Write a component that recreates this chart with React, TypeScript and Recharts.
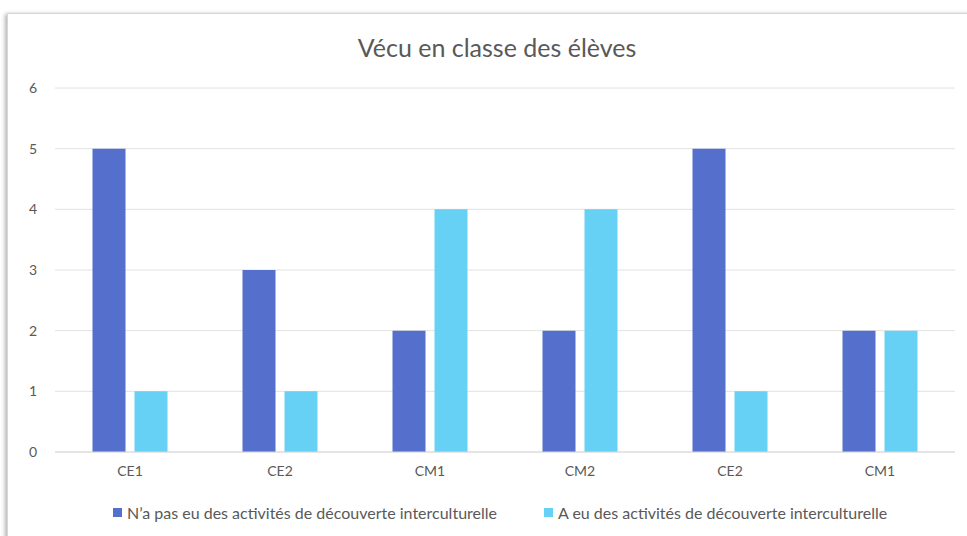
import React from 'react';
import { BarChart, Bar, XAxis, YAxis, CartesianGrid } from 'recharts';

const categories = ['CE1', 'CE2', 'CM1', 'CM2', 'CE2', 'CM1'];
const sansActivites = [5, 3, 2, 2, 5, 2];
const avecActivites = [1, 1, 4, 4, 1, 2];
const yTicks = [0, 1, 2, 3, 4, 5, 6];

const SERIES_A = "N’a pas eu des activités de découverte interculturelle";
const SERIES_B = 'A eu des activités de découverte interculturelle';
const COLOR_A = '#5470CC';
const COLOR_B = '#66D1F5';

const data = categories.map((c, i) => ({
  name: c,
  sans: sansActivites[i],
  avec: avecActivites[i],
}));

const FONT = 'Lato, "Open Sans", sans-serif';
const TEXT = '#595959';

const legendItems = [
  { label: SERIES_A, color: COLOR_A },
  { label: SERIES_B, color: COLOR_B },
];

export default function App() {
  return (
    <div style={{ position: 'absolute', left: 0, top: 0, width: 967, height: 536, background: '#fff', overflow: 'hidden', fontFamily: FONT }}>
      {/* card frame */}
      <div style={{ position: 'absolute', left: 7, top: 13, width: 980, height: 560, border: '1px solid #d6d6d6', boxShadow: '-2px 1px 4px rgba(0,0,0,0.3)', background: '#fff' }} />
      <div style={{ position: 'absolute', left: 0, top: 32, width: 994, textAlign: 'center', fontSize: 25, color: TEXT }}>
        Vécu en classe des élèves
      </div>
      <div style={{ position: 'absolute', left: 0, top: 0 }}>
        <BarChart width={967} height={536} data={data} margin={{ top: 88, right: 12, left: 10, bottom: 54 }} barCategoryGap="25%" barGap={9}>
          <CartesianGrid vertical={false} stroke="#e2e2e2" />
          <XAxis dataKey="name" axisLine={{ stroke: '#d9d9d9' }} tickLine={false} tick={{ fill: TEXT, fontSize: 14, fontFamily: FONT }} dy={6} />
          <YAxis width={45} domain={[0, 6]} ticks={yTicks} axisLine={false} tickLine={false} tick={{ fill: TEXT, fontSize: 14, fontFamily: FONT }} dx={-10} />
          <Bar dataKey="sans" name={SERIES_A} fill={COLOR_A} isAnimationActive={false} />
          <Bar dataKey="avec" name={SERIES_B} fill={COLOR_B} isAnimationActive={false} />
        </BarChart>
      </div>
      <div style={{ position: 'absolute', left: 113, top: 503, display: 'flex', alignItems: 'center', fontSize: 16, color: TEXT, whiteSpace: 'nowrap' }}>
        {legendItems.map((it, i) => (
          <div key={i} style={{ display: 'flex', alignItems: 'center', marginRight: i === 0 ? 47 : 0 }}>
            <span style={{ display: 'inline-block', width: 9, height: 9, background: it.color, marginRight: 5 }} />
            <span>{it.label}</span>
          </div>
        ))}
      </div>
    </div>
  );
}
